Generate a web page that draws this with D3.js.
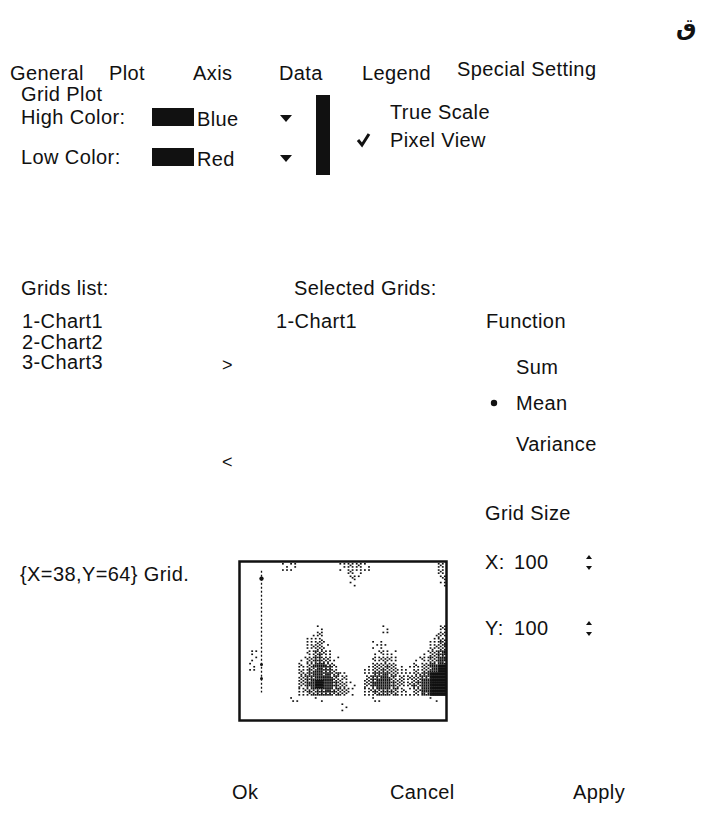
<!DOCTYPE html>
<html><head><meta charset="utf-8">
<script src="https://cdn.jsdelivr.net/npm/d3@7/dist/d3.min.js"></script>
<style>html,body{margin:0;padding:0;background:#fff;}svg{display:block;}</style>
</head><body>
<script>
// ---- data ----
const tabLabels = ["General", "Plot", "Axis", "Data", "Legend", "Special Setting"];
const sectionTitle = "Grid Plot";
const colorLabels = ["High Color:", "Low Color:"];
const colorValues = ["Blue", "Red"];
const viewOptions = ["True Scale", "Pixel View"];
const checkedView = "Pixel View";
const gridsList = ["1-Chart1", "2-Chart2", "3-Chart3"];
const selectedGrids = ["1-Chart1"];
const functionOptions = ["Sum", "Mean", "Variance"];
const selectedFunction = "Mean";
const gridSizeLabels = ["X:", "Y:"];
const gridSizeValues = [100, 100];
const cursorCell = [38, 64];
const buttonLabels = ["Ok", "Cancel", "Apply"];
const pageMark = "ق";
// coarse density of the grid preview (25 columns x 20 rows, 0..9), top row first
const densityRows = [
  "0000011000001221000000002",
  "0000000000000210000000002",
  "0000000000000100000000001",
  "0000000000000000000000000",
  "0000000000000000000000000",
  "0000000000000000000000000",
  "0000000000000000000000000",
  "0000000000000000000000000",
  "0000000001000000010000002",
  "0000000012000000000000013",
  "0000000023100000110000024",
  "0100000024200000121000135",
  "0100000135310000232001246",
  "0100000246520001343112368",
  "0000000357642002564223589",
  "0000000368753103675324799",
  "0000000245543102454213689",
  "0000001001000000100000010",
  "0000000000001000000000000",
  "0000000000000000000000000"
];
// preview y-axis (grid column) and its marked cells [row]
const axisColumn = 10;
const axisRows = [5, 83];
const axisMarks = [10, 65, 74];

// ---- drawing ----
const W = 703, H = 836;
const svg = d3.select("body").append("svg").attr("width", W).attr("height", H)
  .style("font-family", "'Liberation Sans', Arial, sans-serif");
svg.append("rect").attr("width", W).attr("height", H).attr("fill", "#fff");
const ink = "#111";
const fs = 20;
function txt(x, y, s) {
  return svg.append("text").attr("x", x).attr("y", y).attr("font-size", fs)
    .attr("letter-spacing", 0.4).attr("fill", ink).text(s);
}

// page mark
svg.append("text").attr("x", 676).attr("y", 35).attr("font-size", 23)
  .attr("font-family", "'DejaVu Sans', 'Noto Sans', sans-serif").attr("font-weight", "bold")
  .attr("fill", ink).text(pageMark);

// tabs
const tabX = d3.scaleOrdinal().domain(tabLabels).range([10, 109, 193, 279, 362, 457]);
tabLabels.forEach((t, i) => txt(tabX(t), i === 5 ? 76 : 80, t));

txt(21, 101, sectionTitle);

// color settings
const colorY = d3.scaleOrdinal().domain(colorLabels).range([117, 157]);
colorLabels.forEach((lab, i) => {
  const cy = colorY(lab);
  txt(21, cy + 7, lab);
  svg.append("rect").attr("x", 152).attr("y", cy - 9).attr("width", 42).attr("height", 18).attr("fill", ink);
  txt(197, cy + 9, colorValues[i]);
  svg.append("path").attr("d", `M280,${cy - 2}L292,${cy - 2}L286,${cy + 5}Z`).attr("fill", ink);
});
// color bar
svg.append("rect").attr("x", 316).attr("y", 95).attr("width", 14).attr("height", 80).attr("fill", ink);

// view options
const viewY = d3.scaleOrdinal().domain(viewOptions).range([112, 140]);
viewOptions.forEach(v => {
  const cy = viewY(v);
  txt(390, cy + 7, v);
  if (v === checkedView) {
    svg.append("path").attr("d", `M358,${cy}L362,${cy + 5}L369,${cy - 6}`)
      .attr("fill", "none").attr("stroke", ink).attr("stroke-width", 3);
  }
});

// lists
txt(21, 295, "Grids list:");
txt(294, 295, "Selected Grids:");
const listY = d3.scalePoint().domain(d3.range(3)).range([328, 369]);
gridsList.forEach((g, i) => txt(22, listY(i), g));
selectedGrids.forEach((g, i) => txt(276, listY(i), g));
txt(222, 371, ">").attr("font-size", 18);
txt(222, 468, "<").attr("font-size", 18);

// function
txt(486, 328, "Function");
const funcY = d3.scaleOrdinal().domain(functionOptions).range([367, 403, 444]);
functionOptions.forEach(f => {
  const cy = funcY(f);
  txt(516, cy + 7, f);
  if (f === selectedFunction) svg.append("circle").attr("cx", 494).attr("cy", cy).attr("r", 3.2).attr("fill", ink);
});

// grid size
txt(485, 520, "Grid Size");
const sizeY = d3.scaleOrdinal().domain(gridSizeLabels).range([562, 628]);
gridSizeLabels.forEach((lab, i) => {
  const cy = sizeY(lab);
  txt(485, cy + 7, lab);
  txt(514, cy + 7, String(gridSizeValues[i]));
  svg.append("path").attr("d", `M586,${cy - 3}L592,${cy - 3}L589,${cy - 7}Z`).attr("fill", ink);
  svg.append("path").attr("d", `M586,${cy + 4}L592,${cy + 4}L589,${cy + 8}Z`).attr("fill", ink);
});

// cursor label
txt(20, 581, `{X=${cursorCell[0]},Y=${cursorCell[1]}} Grid.`);

// grid preview
const nFine = 100;
const xS = d3.scaleLinear().domain([0, nFine]).range([241, 446]);
const yS = d3.scaleLinear().domain([0, nFine]).range([563, 719]);
const b2 = [[0, 2], [3, 1]];
const bayer8 = [];
for (let r = 0; r < 8; r++) {
  bayer8.push([]);
  for (let c = 0; c < 8; c++) {
    let v = 0, rr = r, cc = c;
    for (let k = 0; k < 3; k++) { v = v * 4 + b2[rr & 1][cc & 1]; rr >>= 1; cc >>= 1; }
    bayer8[r].push(v);
  }
}
const cells = [];
const colsPer = nFine / densityRows[0].length, rowsPer = nFine / densityRows.length;
for (let j = 0; j < nFine; j++) {
  for (let i = 0; i < nFine; i++) {
    const d = +densityRows[Math.floor(j / rowsPer)][Math.floor(i / colsPer)];
    const f = Math.min(1, d / 6.5);
    if (d > 0 && f > (bayer8[j % 8][(i + 3 * Math.floor(j / 8)) % 8] + 0.5) / 64) cells.push([i, j, d]);
  }
}
svg.append("g").selectAll("rect").data(cells).join("rect")
  .attr("x", d => xS(d[0])).attr("y", d => yS(d[1]))
  .attr("width", d => d[2] >= 8 ? xS(1) - xS(0) + 0.3 : 1.8)
  .attr("height", d => d[2] >= 8 ? yS(1) - yS(0) + 0.3 : 1.6)
  .attr("fill", ink);
// preview axis
svg.append("line").attr("x1", xS(axisColumn)).attr("x2", xS(axisColumn))
  .attr("y1", yS(axisRows[0])).attr("y2", yS(axisRows[1]))
  .attr("stroke", ink).attr("stroke-width", 1.3).attr("stroke-dasharray", "2,2");
svg.append("g").selectAll("circle").data(axisMarks).join("circle")
  .attr("cx", xS(axisColumn)).attr("cy", d => yS(d)).attr("r", (d, i) => i === 0 ? 2.2 : 1.5).attr("fill", ink);
svg.append("rect").attr("x", 239.5).attr("y", 561.5).attr("width", 207).attr("height", 159)
  .attr("fill", "none").attr("stroke", ink).attr("stroke-width", 2.5);

// buttons
const btnX = d3.scaleOrdinal().domain(buttonLabels).range([232, 390, 573]);
buttonLabels.forEach(b => txt(btnX(b), 799, b));
</script>
</body></html>
